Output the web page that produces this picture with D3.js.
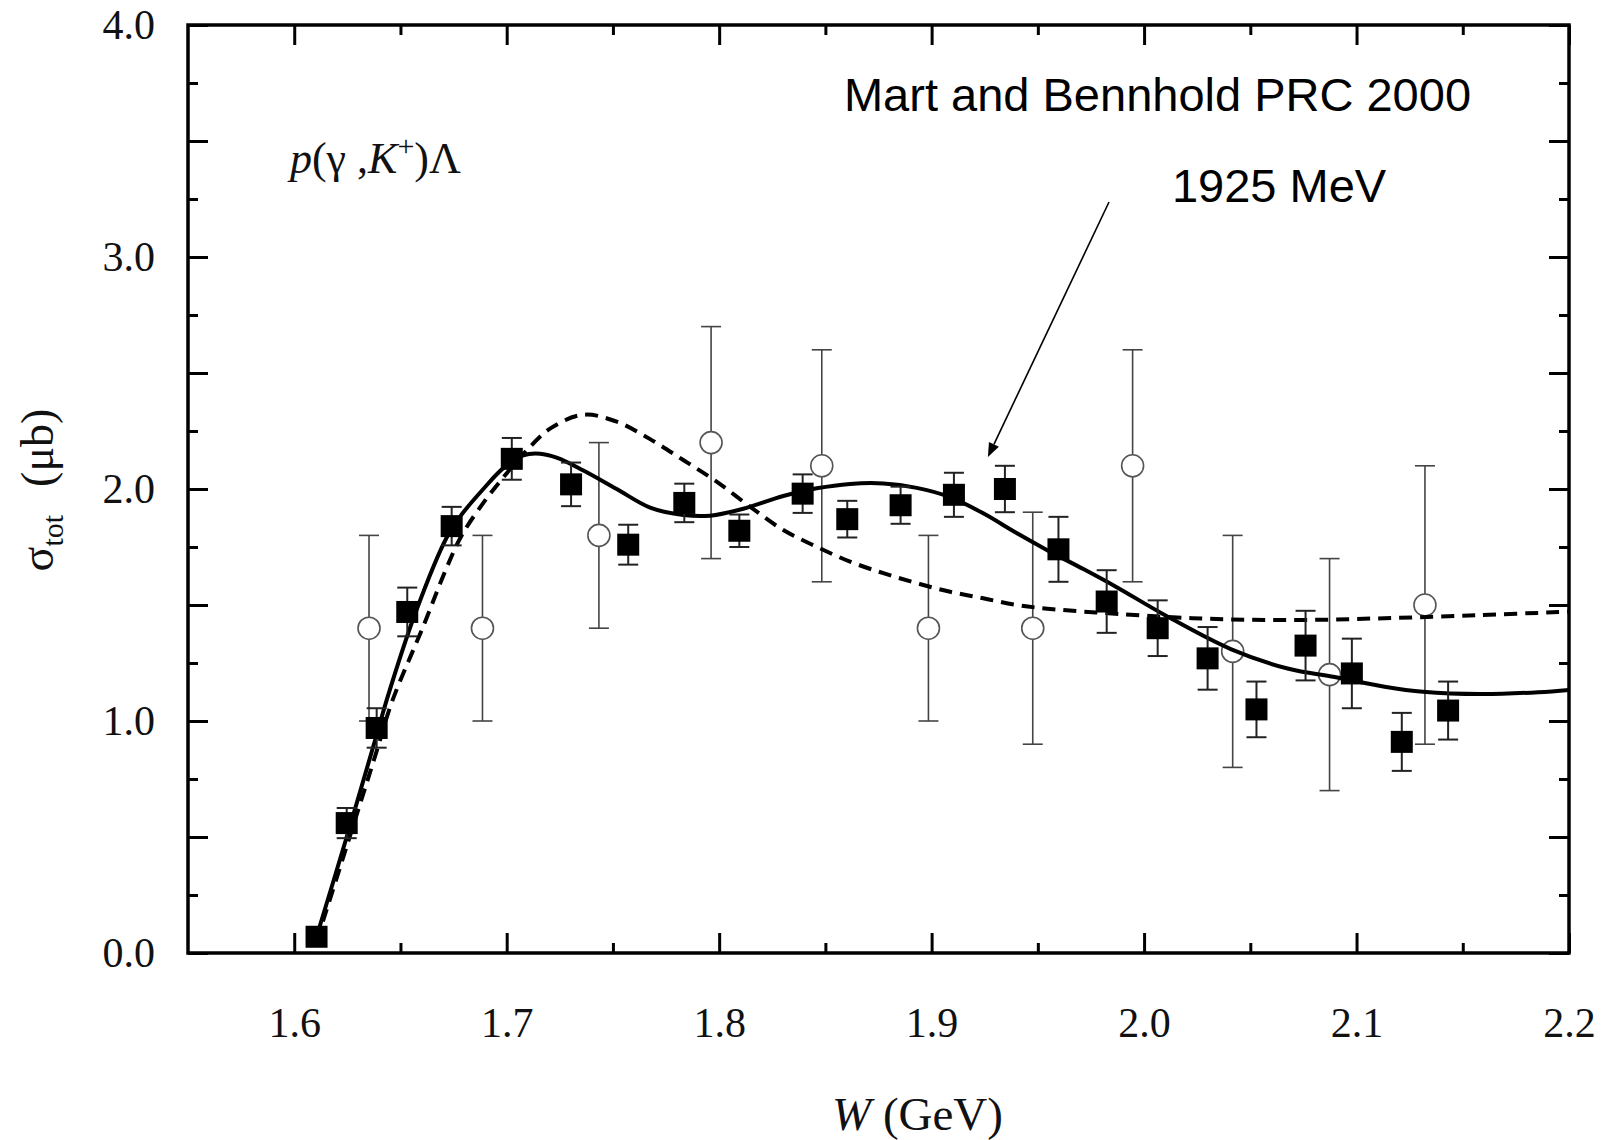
<!DOCTYPE html>
<html>
<head>
<meta charset="utf-8">
<script src="https://cdn.jsdelivr.net/npm/d3@7"></script>
<style>
  body { margin: 0; background: #fff; }
  .serif { font-family: "Liberation Serif", "Times New Roman", serif; }
  .sans { font-family: "Liberation Sans", Arial, sans-serif; }
</style>
</head>
<body>
<div id="chart"></div>
<script>
// filled squares: W (GeV), sigma (ub), error
const sqW   = [1.6105, 1.6247, 1.6388, 1.6532, 1.6741, 1.7024, 1.7303, 1.7572, 1.7836, 1.8095, 1.8393, 1.8603,
               1.8854, 1.9105, 1.9345, 1.9597, 1.9824, 2.0064, 2.0299, 2.0529, 2.0760, 2.0978, 2.1213, 2.1431];
const sqSig = [0.07, 0.56, 0.97, 1.47, 1.84, 2.13, 2.02, 1.76, 1.94, 1.82, 1.98, 1.87,
               1.93, 1.975, 2.0, 1.74, 1.515, 1.40, 1.27, 1.05, 1.325, 1.205, 0.91, 1.045];
const sqErr = [0, 0.065, 0.085, 0.105, 0.083, 0.09, 0.094, 0.086, 0.083, 0.07, 0.083, 0.079,
               0.08, 0.095, 0.1, 0.14, 0.135, 0.12, 0.135, 0.12, 0.15, 0.15, 0.125, 0.125];

// open circles
const ciW   = [1.6352, 1.6886, 1.7434, 1.7962, 1.8483, 1.8985, 1.9476, 1.9946, 2.0417, 2.0873, 2.1322];
const ciSig = [1.40, 1.40, 1.80, 2.20, 2.10, 1.40, 1.40, 2.10, 1.30, 1.20, 1.50];
const ciErr = [0.40, 0.40, 0.40, 0.50, 0.50, 0.40, 0.50, 0.50, 0.50, 0.50, 0.60];

// solid model curve
const solidW = [1.6105, 1.6247, 1.6388, 1.6435, 1.6568, 1.6717, 1.6788, 1.689, 1.6984, 1.7078, 1.7157, 1.7235,
                1.7361, 1.7518, 1.7675, 1.7831, 1.7957, 1.8114, 1.8302, 1.8459, 1.8616, 1.8773, 1.893, 1.9087,
                1.9243, 1.94, 1.9557, 1.9714, 1.9865, 2.0101, 2.0408, 2.068, 2.0897, 2.1132, 2.1313, 2.1585, 2.1856, 2.2];
const solidSig = [0.07, 0.50, 0.94, 1.09, 1.46, 1.79, 1.89, 2.0, 2.09, 2.145, 2.152, 2.135,
                  2.08, 2.0, 1.92, 1.888, 1.885, 1.915, 1.97, 2.003, 2.022, 2.024, 2.005, 1.965,
                  1.895, 1.81, 1.73, 1.655, 1.58, 1.455, 1.31, 1.225, 1.19, 1.148, 1.126, 1.116, 1.124, 1.134];

// dashed model curve
const dashW = [1.6105, 1.6247, 1.6388, 1.6459, 1.6608, 1.6717, 1.6788, 1.689, 1.6984, 1.7078, 1.7204, 1.7361,
               1.7518, 1.7675, 1.7831, 1.7988, 1.8145, 1.8302, 1.8459, 1.8616, 1.8773, 1.893, 1.9087, 1.9243,
               1.94, 1.9557, 1.9774, 2.0227, 2.068, 2.1132, 2.1585, 2.2];
const dashSig = [0.05, 0.46, 0.87, 1.08, 1.41, 1.66, 1.80, 1.94, 2.05, 2.15, 2.26, 2.32,
                 2.29, 2.215, 2.125, 2.032, 1.924, 1.823, 1.751, 1.687, 1.637, 1.594, 1.557, 1.529,
                 1.50, 1.483, 1.468, 1.443, 1.435, 1.443, 1.457, 1.471];

const xMajor = [1.6, 1.7, 1.8, 1.9, 2.0, 2.1, 2.2];
const xMinor = [1.65, 1.75, 1.85, 1.95, 2.05, 2.15];
const yLabeled = [0, 1, 2, 3, 4];
const yHalf = [0.5, 1.5, 2.5, 3.5];
const yMinor = [0.25, 0.75, 1.25, 1.75, 2.25, 2.75, 3.25, 3.75];

const W = 1601, H = 1140;
const margin = { top: 25, right: 32, bottom: 187, left: 188 };
const iw = W - margin.left - margin.right;
const ih = H - margin.top - margin.bottom;

const x = d3.scaleLinear().domain([1.55, 2.2]).range([0, iw]);
const y = d3.scaleLinear().domain([0, 4]).range([ih, 0]);

const svg = d3.select('#chart').append('svg')
  .attr('width', W).attr('height', H)
  .style('background', '#fff');

const g = svg.append('g').attr('transform', `translate(${margin.left},${margin.top})`);

// axes: ticks point inward on all four sides
function addAxis(gen, tx, ty, size, values, fmt, pad) {
  const a = g.append('g')
    .attr('transform', `translate(${tx},${ty})`)
    .call(gen.tickValues(values).tickSize(-size).tickPadding(pad || 0).tickFormat(fmt || ''));
  a.select('.domain').remove();
  a.selectAll('.tick line').attr('stroke', '#000').attr('stroke-width', 3);
  a.selectAll('.tick text')
    .attr('class', 'serif')
    .attr('font-family', null)
    .style('font-size', '42px')
    .attr('fill', '#111');
  return a;
}

const f1 = d3.format('.1f');
addAxis(d3.axisBottom(x), 0, ih, 20, xMajor, f1, 54);
addAxis(d3.axisBottom(x), 0, ih, 10, xMinor);
addAxis(d3.axisTop(x), 0, 0, 20, xMajor);
addAxis(d3.axisTop(x), 0, 0, 10, xMinor);
addAxis(d3.axisLeft(y), 0, 0, 20, yLabeled, f1, 33);
addAxis(d3.axisLeft(y), 0, 0, 20, yHalf);
addAxis(d3.axisLeft(y), 0, 0, 10, yMinor);
addAxis(d3.axisRight(y), iw, 0, 20, yLabeled.concat(yHalf));
addAxis(d3.axisRight(y), iw, 0, 10, yMinor);

// frame
g.append('rect')
  .attr('width', iw).attr('height', ih)
  .attr('fill', 'none').attr('stroke', '#000').attr('stroke-width', 3.5);

const circles = ciW.map((w, i) => ({ w, s: ciSig[i], e: ciErr[i] }));
const squares = sqW.map((w, i) => ({ w, s: sqSig[i], e: sqErr[i] }));

function errorBars(data, color, width, cap) {
  const eb = g.append('g').attr('stroke', color).attr('stroke-width', width);
  data.filter(d => d.e > 0).forEach(d => {
    const cx = x(d.w), y0 = y(d.s - d.e), y1 = y(d.s + d.e);
    eb.append('line').attr('x1', cx).attr('x2', cx).attr('y1', y0).attr('y2', y1);
    eb.append('line').attr('x1', cx - cap).attr('x2', cx + cap).attr('y1', y0).attr('y2', y0);
    eb.append('line').attr('x1', cx - cap).attr('x2', cx + cap).attr('y1', y1).attr('y2', y1);
  });
}

// open circle data
errorBars(circles, '#444', 1.6, 10);
g.append('g').selectAll('circle')
  .data(circles).join('circle')
  .attr('cx', d => x(d.w)).attr('cy', d => y(d.s)).attr('r', 11)
  .attr('fill', '#fff').attr('stroke', '#555').attr('stroke-width', 1.6);

// model curves
const line = d3.line().x(d => x(d[0])).y(d => y(d[1])).curve(d3.curveCatmullRom.alpha(0.5));
g.append('path')
  .datum(dashW.map((w, i) => [w, dashSig[i]]))
  .attr('d', line).attr('fill', 'none').attr('stroke', '#000')
  .attr('stroke-width', 4).attr('stroke-dasharray', '13,8');
g.append('path')
  .datum(solidW.map((w, i) => [w, solidSig[i]]))
  .attr('d', line).attr('fill', 'none').attr('stroke', '#000')
  .attr('stroke-width', 4);

// filled squares
errorBars(squares, '#222', 2, 10);
g.append('g').selectAll('rect')
  .data(squares).join('rect')
  .attr('x', d => x(d.w) - 11).attr('y', d => y(d.s) - 11)
  .attr('width', 22).attr('height', 22).attr('fill', '#000');

// annotation
const a0 = [x(1.9835), y(3.237)], a1 = [x(1.9265), y(2.138)];
const ang = Math.atan2(a1[1] - a0[1], a1[0] - a0[0]);
const hl = 14, hw = 5.5;
const base = [a1[0] - hl * Math.cos(ang), a1[1] - hl * Math.sin(ang)];
g.append('line')
  .attr('x1', a0[0]).attr('y1', a0[1]).attr('x2', base[0]).attr('y2', base[1])
  .attr('stroke', '#000').attr('stroke-width', 1.6);
g.append('polygon')
  .attr('points', [
    a1,
    [base[0] + hw * Math.sin(ang), base[1] - hw * Math.cos(ang)],
    [base[0] - hw * Math.sin(ang), base[1] + hw * Math.cos(ang)]
  ].map(p => p.join(',')).join(' '))
  .attr('fill', '#000');

g.append('text').attr('class', 'sans')
  .attr('x', x(2.1539)).attr('y', y(3.629))
  .attr('text-anchor', 'end').style('font-size', '47px')
  .text('Mart and Bennhold PRC 2000');
g.append('text').attr('class', 'sans')
  .attr('x', x(2.0131)).attr('y', y(3.237))
  .style('font-size', '47px')
  .text('1925 MeV');

// reaction label
const rl = g.append('text').attr('class', 'serif')
  .attr('x', x(1.598)).attr('y', y(3.362))
  .style('font-size', '44px').attr('fill', '#111');
rl.append('tspan').attr('font-style', 'italic').text('p');
rl.append('tspan').text('(γ ,');
rl.append('tspan').attr('font-style', 'italic').text('K');
rl.append('tspan').attr('dy', -17).style('font-size', '30px').text('+');
rl.append('tspan').attr('dy', 17).text(')Λ');

// axis titles
const xt = svg.append('text').attr('class', 'serif')
  .attr('x', 832).attr('y', 1130)
  .style('font-size', '47px').attr('fill', '#111');
xt.append('tspan').attr('font-style', 'italic').text('W');
xt.append('tspan').text(' (GeV)');

const yt = svg.append('text').attr('class', 'serif')
  .attr('transform', 'translate(53,490) rotate(-90)')
  .attr('text-anchor', 'middle')
  .style('font-size', '46px').attr('fill', '#111');
yt.append('tspan').text('σ');
yt.append('tspan').attr('dy', 10).style('font-size', '30px').text('tot');
yt.append('tspan').attr('dy', -10).attr('dx', 28).text('(μb)');
</script>
</body>
</html>
